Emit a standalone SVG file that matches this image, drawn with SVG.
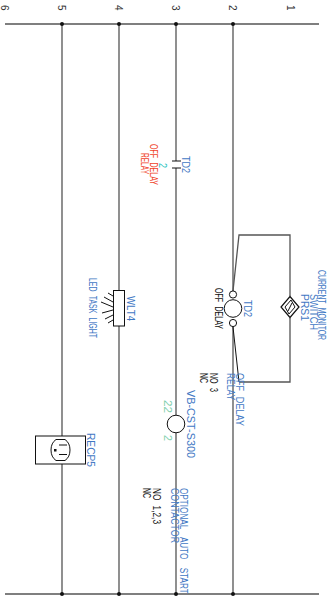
<svg xmlns="http://www.w3.org/2000/svg" width="327" height="597" viewBox="0 0 327 597">
<style>
.w{fill:none;stroke:#555;stroke-width:1.3}
.k{fill:none;stroke:#111;stroke-width:1}
.d{fill:#111}
text{font-family:"Liberation Sans",Arial,sans-serif;font-size:11.500px;word-spacing:4px}
.b{fill:#3f78c4}.n{fill:#111}.r{fill:#f0432a}.g{fill:#7fd0ae}.c{fill:#2ac4c0}
.t{fill:#333;font-size:10px}
</style>
<g id="connectors">
<path class="w" d="M5 24H319M5 594H319M62 24V436M62 464V594M119 24V291M119 325V594M176 24V161M176 168V415M176 433V594M233 24V291M233 327V594"/>
<path class="w" d="M233 291L239 235H290V296M290 318V382H239"/>
<path class="k" d="M233 327L239 382"/>
<path class="d" d="M60 24a2 2 0 1 0 4 0a2 2 0 1 0-4 0M117 24a2 2 0 1 0 4 0a2 2 0 1 0-4 0M174 24a2 2 0 1 0 4 0a2 2 0 1 0-4 0M231 24a2 2 0 1 0 4 0a2 2 0 1 0-4 0M60 594a2 2 0 1 0 4 0a2 2 0 1 0-4 0M117 594a2 2 0 1 0 4 0a2 2 0 1 0-4 0M174 594a2 2 0 1 0 4 0a2 2 0 1 0-4 0M231 594a2 2 0 1 0 4 0a2 2 0 1 0-4 0"/>
</g>
<g id="rungs">
<text class="t" transform="translate(287 5) rotate(90)">1</text>
<text class="t" transform="translate(229 5) rotate(90)">2</text>
<text class="t" transform="translate(172 5) rotate(90)">3</text>
<text class="t" transform="translate(115 5) rotate(90)">4</text>
<text class="t" transform="translate(58 5) rotate(90)">5</text>
<text class="t" transform="translate(1 5) rotate(90)">6</text>
</g>
<g id="TD2-contact">
<path class="k" d="M172 161H181M172 168H181" stroke-width="1.2"/>
<text class="b" transform="translate(182 156) rotate(90)" textLength="17" lengthAdjust="spacingAndGlyphs">TD2</text>
<text class="c" transform="translate(159 163) rotate(90)" textLength="5" lengthAdjust="spacingAndGlyphs">2</text>
<text class="r" transform="translate(150 144) rotate(90)" textLength="41" lengthAdjust="spacingAndGlyphs">OFF DELAY</text>
<text class="r" transform="translate(141 153) rotate(90)" textLength="21" lengthAdjust="spacingAndGlyphs">RELAY</text>
</g>
<g id="TD2-coil">
<circle cx="233" cy="294.500" r="3.600" fill="#fff" stroke="#111"/>
<circle cx="233" cy="308.500" r="8.800" fill="#fff" stroke="#111"/>
<circle cx="233" cy="323" r="3.600" fill="#fff" stroke="#111"/>
<text class="b" transform="translate(244 300) rotate(90)" textLength="17" lengthAdjust="spacingAndGlyphs">TD2</text>
<text class="n" transform="translate(215 288) rotate(90)" textLength="41" lengthAdjust="spacingAndGlyphs">OFF DELAY</text>
<text class="n" transform="translate(210 373) rotate(90)" textLength="19" lengthAdjust="spacingAndGlyphs">NO 3</text>
<text class="n" transform="translate(200 373) rotate(90)" textLength="10" lengthAdjust="spacingAndGlyphs">NC</text>
<text class="b" transform="translate(236 373) rotate(90)" textLength="53" lengthAdjust="spacingAndGlyphs">OFF DELAY</text>
<text class="b" transform="translate(227 373) rotate(90)" textLength="27" lengthAdjust="spacingAndGlyphs">RELAY</text>
</g>
<g id="PRS1">
<path d="M290 296.500L299 307L290 317.500L281 307Z" fill="#fff" stroke="#111" stroke-width="1.200"/>
<path class="k" d="M285 307L291 300L295 307L289 314ZM288 311L292 303" stroke-width=".8"/>
<text class="b" transform="translate(301 294) rotate(90)" textLength="27" lengthAdjust="spacingAndGlyphs">PRS1</text>
<text class="b" transform="translate(310 294) rotate(90)" textLength="36" lengthAdjust="spacingAndGlyphs">SWITCH</text>
<text class="b" transform="translate(318 270) rotate(90)" textLength="70" lengthAdjust="spacingAndGlyphs">CURRENT MONITOR</text>
</g>
<g id="WLT4">
<rect x="113.500" y="290.500" width="11" height="35.500" fill="#fff" stroke="#111"/>
<path class="k" d="M108 293L113 296M104 297L113 302M101 302L113 307M102 313L113 310M105 319L113 315M108 323L113 320" stroke-width=".8"/>
<text class="b" transform="translate(127 296) rotate(90)" textLength="25" lengthAdjust="spacingAndGlyphs">WLT4</text>
<text class="b" transform="translate(89 278) rotate(90)" textLength="60" lengthAdjust="spacingAndGlyphs">LED TASK LIGHT</text>
</g>
<g id="VB-CST-S300">
<circle cx="176" cy="424" r="8.800" fill="#fff" stroke="#111"/>
<text class="b" transform="translate(187 390) rotate(90)" textLength="68" lengthAdjust="spacingAndGlyphs">VB-CST-S300</text>
<text class="g" transform="translate(164 400) rotate(90)" textLength="13" lengthAdjust="spacingAndGlyphs">22</text>
<text class="g" transform="translate(164 435) rotate(90)" textLength="6" lengthAdjust="spacingAndGlyphs">2</text>
</g>
<g id="RECP5">
<rect x="35.500" y="436" width="50" height="28" fill="#fff" stroke="#111"/>
<path class="k" d="M56 439.500H65Q70 443 70 450Q70 457 65 460.500H56Q51 457 51 450Q51 443 56 439.500Z"/>
<path class="k" d="M59 445H67M59 454.500H67"/>
<rect x="54" y="449" width="2.500" height="2.500" fill="#111"/>
<text class="b" transform="translate(87 433) rotate(90)" textLength="34" lengthAdjust="spacingAndGlyphs">RECP5</text>
</g>
<g id="contactor">
<text class="b" transform="translate(180 488) rotate(90) scale(.71 1)" style="word-spacing:8.600px">OPTIONAL AUTO START</text>
<text class="b" transform="translate(171 488) rotate(90)" textLength="55" lengthAdjust="spacingAndGlyphs">CONTACTOR</text>
<text class="n" transform="translate(153 488) rotate(90)" textLength="36" lengthAdjust="spacingAndGlyphs">NO 1,2,3</text>
<text class="n" transform="translate(143 488) rotate(90)" textLength="10" lengthAdjust="spacingAndGlyphs">NC</text>
</g>
</svg>
